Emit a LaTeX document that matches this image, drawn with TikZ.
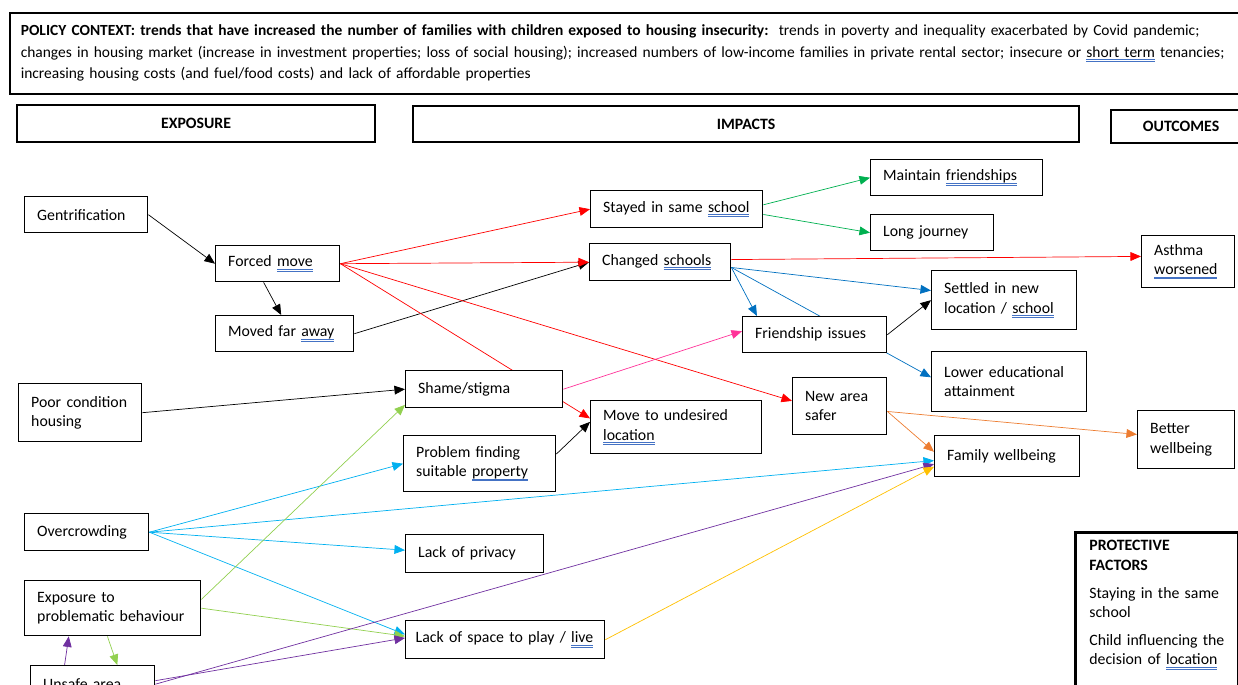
\documentclass[tikz,border=0pt]{standalone}
\usepackage{fontspec}
\setmainfont{Carlito}
\usetikzlibrary{arrows.meta,backgrounds}
\definecolor{lgreen}{HTML}{92D050}
\definecolor{dgreen}{HTML}{00B050}
\definecolor{dblue}{HTML}{0070C0}
\definecolor{lblue}{HTML}{00B0F0}
\definecolor{violet}{HTML}{7030A0}
\definecolor{pinkline}{HTML}{FF3399}
\definecolor{orangeline}{HTML}{ED7D31}
\definecolor{gold}{HTML}{FFC000}
\definecolor{spellblue}{HTML}{4472C4}
\newcommand{\spell}[1]{\leavevmode\setbox0=\hbox{#1}\rlap{\color{spellblue}\rule[-1.5pt]{\wd0}{0.4pt}}\rlap{\color{spellblue}\rule[-2.5pt]{\wd0}{0.4pt}}\box0\relax}

\begin{document}
\begin{tikzpicture}[x=0.02cm,y=-0.02cm,
  box/.style={draw,line width=0.8pt,fill=white,anchor=north west,align=left,inner xsep=0.25cm,inner ysep=1pt,font=\fontsize{9}{11}\selectfont},
  head/.style={draw,line width=1.3pt,fill=white,anchor=north west,font=\fontsize{9}{11}\selectfont\bfseries},
  >={Triangle[length=6pt,width=5pt]}]
\useasboundingbox (0,0) rectangle (1238,685);

% policy context
\node[draw,line width=0.9pt,anchor=north west,align=left,inner xsep=0.22cm,text width=25cm,minimum height=1.62cm,font=\fontsize{8.8}{12.2}\selectfont] (policy) at (9,12)
{\textbf{POLICY CONTEXT: trends that have increased the number of families with children exposed to housing insecurity:}\ \ trends in poverty and inequality exacerbated by Covid pandemic;\\
changes in housing market (increase in investment properties; loss of social housing); increased numbers of low-income families in private rental sector; insecure or \spell{short term} tenancies;\\
increasing housing costs (and fuel/food costs) and lack of affordable properties};

% column heads
\node[head,minimum width=7.16cm,minimum height=0.74cm] (exposure) at (16,104) {EXPOSURE};
\node[head,minimum width=13.32cm,minimum height=0.72cm] (impacts) at (412,105) {IMPACTS};
\node[head,minimum width=2.8cm,minimum height=0.66cm] (outcomes) at (1110,109) {OUTCOMES};

% exposure
\node[box,text width=1.96cm,minimum height=0.72cm] (gent) at (24,196) {Gentrification};
\node[box,text width=1.98cm,minimum height=0.72cm] (forced) at (215,245) {Forced \spell{move}};
\node[box,text width=2.26cm,minimum height=0.72cm] (moved) at (215,315) {Moved far \spell{away}};
\node[box,text width=1.96cm,minimum height=1.16cm] (poor) at (18,383) {Poor condition\\housing};
\node[box,text width=1.98cm,minimum height=0.74cm] (over) at (24,513) {Overcrowding};
\node[box,text width=3.02cm,minimum height=1.10cm] (expo) at (24,580) {Exposure to\\problematic behaviour};
\node[box,text width=1.98cm,minimum height=0.74cm] (unsafe) at (30,665) {Unsafe area};

% impacts
\node[box,text width=2.94cm,minimum height=0.74cm] (stayed) at (590,190) {Stayed in same \spell{school}};
\node[box,text width=2.32cm,minimum height=0.74cm] (changed) at (589,243) {Changed \spell{schools}};
\node[box,text width=2.38cm,minimum height=0.72cm] (friend) at (742,316) {Friendship issues};
\node[box,text width=2.64cm,minimum height=0.74cm] (shame) at (405,370) {Shame/stigma};
\node[box,text width=2.54cm,minimum height=1.12cm] (prob) at (403,435) {Problem finding\\suitable \spell{property}};
\node[box,text width=2.92cm,minimum height=1.06cm] (undes) at (590,400) {Move to undesired\\\spell{location}};
\node[box,text width=2.26cm,minimum height=0.76cm] (priv) at (405,534) {Lack of privacy};
\node[box,inner xsep=0.2cm,text width=3.58cm,minimum height=0.76cm] (space) at (405,620) {Lack of space to play / \spell{live}};
\node[box,text width=1.38cm,minimum height=1.14cm] (safer) at (792,377) {New area\\safer};
\node[box,text width=2.94cm,minimum height=0.72cm] (maint) at (870,159) {Maintain \spell{friendships}};
\node[box,text width=1.96cm,minimum height=0.72cm] (long) at (870,214) {Long journey};
\node[box,text width=2.40cm,minimum height=1.18cm] (settled) at (931,270) {Settled in new\\location / \spell{school}};
\node[box,text width=2.60cm,minimum height=1.20cm] (lower) at (931,351) {Lower educational\\attainment};
\node[box,text width=2.40cm,minimum height=0.82cm] (family) at (934,435) {Family wellbeing};

% outcomes
\node[box,text width=1.36cm,minimum height=1.04cm] (asthma) at (1141,235) {Asthma\\\spell{worsened}};
\node[box,text width=1.44cm,minimum height=1.16cm] (better) at (1137,410) {Better\\wellbeing};
\node[draw,line width=1.5pt,anchor=north west,minimum width=3.26cm,minimum height=3.4cm] (prot) at (1074,531) {};
\node[anchor=north west,align=left,inner sep=0pt,text width=2.9cm,font=\fontsize{9}{11}\selectfont] (prottext) at (1089,540)
{\textbf{PROTECTIVE}\\\textbf{FACTORS}\\[5pt]Staying in the same\\school\\[5pt]Child influencing the\\decision of \spell{location}};

\begin{scope}[on background layer,line width=0.75pt]
% black links
\draw[->] (gent.east) -- (forced.west);
\draw[->] ([xshift=-8pt]forced.south) -- ([xshift=-2pt]moved.north);
\draw[->] (moved.east) -- (changed.west);
\draw[->] (poor.east) -- (shame.west);
\draw[->] ([yshift=5.5pt]prob.east) -- ([yshift=3pt]undes.west);
\draw[->] (friend.east) -- (settled.west);
% red links, edit here for the targets of forced move
\foreach \t/\s in {stayed/0pt,changed/0pt,safer/3pt,undes/5pt}
\draw[red,->] (forced.east) -- ([yshift=\s]\t.west);
\draw[red,->] ([yshift=1.5pt]changed.east) -- ([yshift=3pt]asthma.west);
% changed schools (blue), the last one runs behind friendship issues
\draw[dblue,->] ([yshift=-3pt]changed.east) -- ([xshift=8.5pt]friend.north west);
\draw[dblue,->] ([yshift=-3pt]changed.east) -- ([yshift=5.5pt]settled.west);
\draw[dblue,->] ([yshift=-3pt]changed.east) -- ([yshift=2.5pt]lower.west);
% stayed in same school (green)
\draw[dgreen,->] ([yshift=2.5pt]stayed.east) -- (maint.west);
\draw[dgreen,->] ([yshift=-3pt]stayed.east) -- (long.west);
\draw[pinkline,->] (shame.east) -- ([yshift=2pt]friend.west);
% new area safer (orange)
\draw[orangeline,->] ([yshift=-3pt]safer.east) -- ([yshift=3pt]better.west);
\draw[orangeline,->] ([yshift=-3pt]safer.east) -- ([yshift=2.5pt]family.west);
% overcrowding (light blue)
\foreach \t/\s in {prob/0pt,priv/2pt,space/3pt}
\draw[lblue,->] (over.east) -- ([yshift=\s]\t.west);
\draw[lblue,->] (over.east) -- ([yshift=-2.5pt]family.west);
% problematic behaviour (light green)
\draw[lgreen,->] ([yshift=5pt]expo.east) -- ([yshift=2pt]shame.south west);
\draw[lgreen,->] (expo.east) -- ([yshift=2pt]space.west);
\draw[lgreen,->] ([xshift=-3pt]expo.south) -- ([xshift=14pt]unsafe.north);
% unsafe area (purple)
\draw[violet,->] ([xshift=-16pt]unsafe.north) -- ([xshift=-25pt]expo.south);
\draw[violet,->] ([yshift=2pt]unsafe.east) -- ([yshift=1pt]space.west);
\draw[violet,->] (unsafe.east) -- ([yshift=-4.5pt]family.west);
\draw[gold,->] (space.east) -- ([yshift=-6pt]family.west);
\end{scope}
\end{tikzpicture}
\end{document}
